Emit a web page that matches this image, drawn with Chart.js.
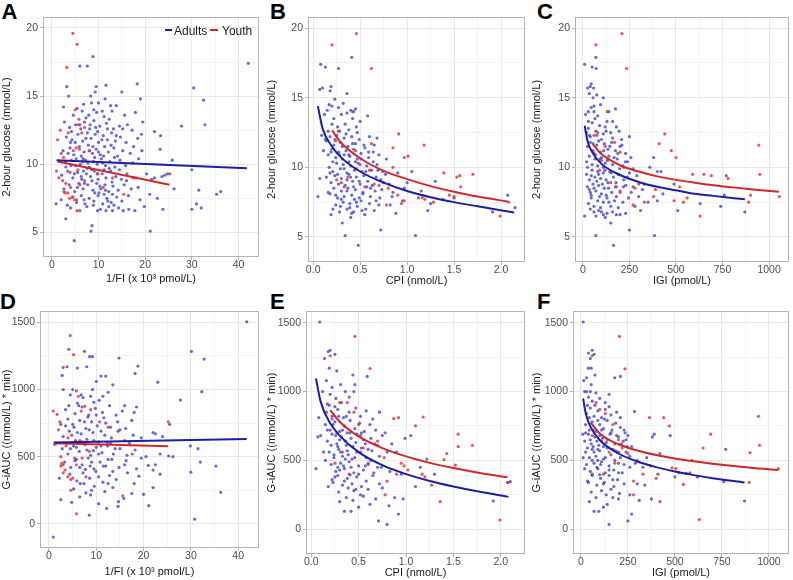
<!DOCTYPE html>
<html>
<head>
<meta charset="utf-8">
<script src="https://cdn.jsdelivr.net/npm/chart.js@4.4.1/dist/chart.umd.min.js"></script>
<style>
body { margin: 0; background: #fff; width: 793px; height: 580px; position: relative; overflow: hidden; font-family: "Liberation Sans", Arial, sans-serif; }
canvas { position: absolute; }
.lbl { position: absolute; font-weight: bold; font-size: 22px; line-height: 22px; color: #000; }
</style>
</head>
<body>
<div class="lbl" style="left:1.5px;top:1.4px">A</div>
<div class="lbl" style="left:270px;top:1.4px">B</div>
<div class="lbl" style="left:537px;top:1.4px">C</div>
<div class="lbl" style="left:0px;top:291.4px">D</div>
<div class="lbl" style="left:270px;top:291.4px">E</div>
<div class="lbl" style="left:537px;top:291.4px">F</div>
<canvas id="pA" width="265" height="290" style="left:0;top:0"></canvas>
<canvas id="pB" width="265" height="290" style="left:265px;top:0"></canvas>
<canvas id="pC" width="263" height="290" style="left:530px;top:0"></canvas>
<canvas id="pD" width="265" height="290" style="left:0;top:290px"></canvas>
<canvas id="pE" width="265" height="290" style="left:265px;top:290px"></canvas>
<canvas id="pF" width="263" height="290" style="left:530px;top:290px"></canvas>
<script>
// ---- tick labels ----
const fiTicks = [0, 10, 20, 30, 40], fiMinor = [5, 15, 25, 35]
const cpiTicks = [0, 0.5, 1, 1.5, 2], cpiMinor = [0.25, 0.75, 1.25, 1.75]
const igiTicks = [0, 250, 500, 750, 1000], igiMinor = [125, 375, 625, 875]
const glucoseTicks = [5, 10, 15, 20], glucoseMinor = [7.5, 12.5, 17.5]
const giaucTicks = [0, 500, 1000, 1500], giaucMinor = [250, 750, 1250]

// ---- A: 1/FI vs 2-hour glucose ----
const adultsA = [[42.1,17.4],[30.4,15.6],[32.5,14.7],[32.8,12.9],[27.8,12.8],[25.8,10.3],[26.2,8.2],[30.0,9.6],[31.5,8.1],[36.2,8.0],[35.3,7.8],[30.0,6.7],[31.0,7.1],[32.0,6.8],[21.1,5.1],[8.6,5.5],[8.4,5.1],[4.8,4.4],[3.0,6.0],[0.9,7.1],[8.8,17.9],[6.0,17.2],[7.6,17.2],[18.3,15.9],[11.6,15.8],[9.5,15.7],[3.2,15.7],[15.0,15.3],[9.3,15.3],[19.0,14.8],[22.0,12.4],[23.3,12.1],[23.2,11.1],[19.5,13.1],[3.6,15.0],[12.6,14.3],[13.8,14.3],[8.5,14.5],[10.0,14.5],[17.9,13.8],[2.5,14.2],[2.7,13.1],[14.5,12.8],[19.2,12.2],[20.3,9.3],[21.4,8.9],[22.0,9.0],[23.6,9.1],[23.8,6.7],[24.2,9.2],[19.8,6.9],[17.8,6.6],[15.3,6.6],[14.3,6.8],[16.5,6.7],[9.8,6.6],[10.4,6.7],[13.0,6.6],[21.0,7.8],[22.6,7.5],[24.8,9.3],
  [4.6,13.6],[6.5,13.9],[7.3,13.4],[9.6,13.8],[11.2,13.5],[12.9,13.9],[15.6,13.6],[5.4,14.1],
  [3.8,12.7],[5.1,12.9],[6.2,12.6],[7.0,13.1],[8.1,12.6],[9.0,13.2],[10.3,12.8],[11.7,13.0],[13.2,12.6],[16.2,12.9],[17.2,12.5],[12.3,13.3],
  [3.1,12.0],[4.3,11.8],[5.6,12.2],[6.6,11.7],[7.6,12.3],[8.4,11.9],[9.3,12.2],[10.0,11.6],[11.0,12.1],[11.9,11.8],[12.8,12.3],[13.6,11.7],[14.7,12.0],[15.9,11.6],[18.4,11.9],[9.8,12.4],
  [2.4,11.0],[3.9,11.2],[4.7,10.7],[5.9,11.3],[6.9,10.9],[7.8,11.4],[8.7,10.8],[9.5,11.1],[10.4,10.7],[11.3,11.3],[12.1,10.9],[13.3,11.2],[14.1,10.6],[15.2,11.0],[16.8,10.8],[19.3,11.0],[6.3,10.6],[8.1,11.0],
  [2.9,10.2],[4.1,9.9],[5.2,10.4],[6.1,10.0],[7.2,10.3],[8.0,9.8],[8.9,10.2],[9.7,10.0],[10.6,10.4],[11.5,9.9],[12.4,10.2],[13.5,9.8],[14.6,10.3],[15.8,9.9],[17.3,10.1],[18.6,10.4],[9.2,10.5],[10.9,10.1],[7.6,9.7],
  [2.1,9.2],[3.4,9.5],[4.5,9.0],[5.5,9.4],[6.4,8.9],[7.4,9.3],[8.3,9.1],[9.1,9.5],[9.9,8.9],[10.8,9.3],[11.6,9.0],[12.6,9.5],[13.7,9.1],[14.9,8.9],[16.1,9.3],[18.0,9.0],[8.6,8.8],[11.2,9.6],[6.8,9.5],
  [2.6,8.2],[3.7,8.5],[4.9,8.0],[5.8,8.6],[6.7,8.2],[7.7,8.5],[8.8,8.1],[9.6,8.6],[10.5,8.2],[11.4,8.5],[12.2,8.0],[13.1,8.4],[14.2,8.1],[15.5,8.5],[17.0,8.2],[18.5,8.3],[10.1,7.9],[12.9,8.7],
  [2.0,7.4],[3.3,7.0],[4.4,7.6],[5.3,7.2],[6.3,7.7],[7.1,7.1],[8.0,7.5],[9.0,7.3],[9.9,7.7],[10.9,7.1],[11.8,7.5],[12.7,7.2],[13.9,7.6],[15.0,7.3],[16.4,7.7],[18.9,7.4],[11.2,7.8],[13.3,7.0],
  [4.0,6.8],[6.0,6.6],[7.5,6.9],[11.6,6.6],[12.2,6.9],
  [3.5,10.8],[4.2,12.4],[4.8,9.3],[5.0,11.6],[5.5,8.3],[6.0,12.9],[6.3,9.1],[6.7,10.4],[7.0,8.6],[7.3,11.9],[7.7,10.1],[8.2,12.9],[8.5,9.6],[8.8,11.3],[9.2,7.9],[9.4,12.7],[9.7,9.3],[10.0,10.9],[10.3,8.4],[10.7,11.8],[11.1,10.6],[11.5,8.1],[11.9,12.6],[12.3,9.7],[12.7,11.4],[13.0,7.8],[13.4,10.5],[13.8,12.1],[6.9,7.4],[8.9,7.0],[5.1,9.9],[4.0,11.6],[3.0,9.8],[7.9,13.6],[10.8,13.9],[12.0,7.3],[14.5,9.6],[15.2,12.6],[16.0,8.8],[17.5,11.3],[9.0,14.0],[6.8,14.4],[11.4,14.8],[8.3,15.0]]
const youthA = [[4.5,19.6],[5.4,18.8],[3.2,17.1],[1.2,11.8],[1.8,12.5],[3.5,12.3],[5.0,14.0],[5.7,12.9],[6.4,12.3],[4.6,11.0],[5.2,11.2],[5.9,11.1],[2.5,10.5],[1.0,9.5],[2.3,8.8],[2.6,8.0],[3.4,7.9],[3.0,8.6],[3.8,7.5],[4.5,7.6],[4.9,7.4],[5.4,6.6],[5.3,7.4],[6.0,8.5],[7.0,8.8],[9.9,9.3],[13.0,9.0],[15.4,7.8],[17.4,9.0],[25.3,9.3],[6.6,10.2],[8.0,11.0],[11.0,8.3],[3.9,9.4],[4.2,10.3],[2.0,10.8],[7.0,12.7],[5.8,13.3],[2.8,7.9],[4.0,8.3],[1.5,9.0],[5.6,9.6]]
const fitAdultsA = [[1.0,10.3],[41.8,9.7]]
const fitYouthA = [[1.2,10.2],[25.2,8.5]]

// ---- B: CPI vs 2-hour glucose ----
const adultsB = [[0.08,17.4],[0.13,17.2],[0.27,17.1],[0.41,17.9],[0.07,15.6],[0.10,15.7],[0.19,15.8],[0.18,15.5],[0.36,15.3],[0.58,13.7],[0.05,7.9],[0.07,9.2],[0.72,5.5],[1.09,5.1],[0.34,5.1],[0.48,4.4],[0.68,12.1],[1.05,9.7],[1.3,9.0],[1.22,6.9],[1.91,6.8],[2.07,8.0],[2.15,7.1],[0.17,14.5],[0.15,14.1],[0.12,13.8],[0.20,14.4],[0.23,14.9],[0.45,14.2],[0.43,14.0],[0.09,12.3],[0.11,11.2],[0.13,12.0],[0.16,8.2],[0.19,6.6],[0.21,7.0],[0.31,6.0],[0.40,6.4],[0.55,6.6],[0.82,7.3],[0.88,6.7],[0.95,7.6],[1.12,7.8],[1.25,7.4],[1.38,7.7],[1.5,7.8],[0.97,8.5],[0.9,9.6],[0.78,10.6],[0.75,8.9],[0.85,8.2],[1.0,8.9],[1.15,8.3],
  [0.22,13.5],[0.26,12.9],[0.30,13.8],[0.34,13.1],[0.38,12.7],[0.42,13.5],[0.46,12.9],[0.50,13.3],[0.28,12.6],[0.40,14.1],
  [0.14,11.9],[0.18,12.2],[0.22,11.6],[0.25,12.3],[0.29,11.8],[0.33,12.1],[0.37,11.5],[0.41,12.2],[0.45,11.7],[0.49,12.0],[0.54,11.6],[0.60,12.2],[0.65,11.6],
  [0.16,10.9],[0.20,11.3],[0.24,10.7],[0.27,11.1],[0.31,10.6],[0.35,11.2],[0.39,10.8],[0.43,11.3],[0.47,10.6],[0.51,11.0],[0.55,11.4],[0.59,10.7],[0.64,11.1],[0.70,10.9],[0.33,10.9],
  [0.17,10.0],[0.21,9.7],[0.25,10.3],[0.29,9.9],[0.32,10.2],[0.36,9.6],[0.40,10.1],[0.44,9.8],[0.48,10.3],[0.52,9.7],[0.57,10.1],[0.62,9.8],[0.68,10.2],[0.74,9.7],[0.38,10.4],[0.46,9.9],
  [0.14,9.3],[0.19,8.9],[0.23,9.4],[0.27,8.8],[0.30,9.2],[0.34,8.7],[0.38,9.5],[0.42,9.0],[0.46,9.3],[0.50,8.8],[0.54,9.4],[0.58,9.0],[0.63,8.7],[0.67,9.3],[0.72,9.1],[0.36,9.1],
  [0.18,8.1],[0.22,8.5],[0.26,7.8],[0.30,8.3],[0.33,7.9],[0.37,8.5],[0.41,8.0],[0.45,8.4],[0.49,7.8],[0.53,8.2],[0.57,8.6],[0.61,7.9],[0.66,8.3],[0.71,7.8],[0.44,7.7],
  [0.24,7.3],[0.28,6.8],[0.32,7.5],[0.36,7.0],[0.39,7.4],[0.43,6.8],[0.47,7.2],[0.51,7.6],[0.56,7.0],[0.60,7.4],[0.65,6.9],[0.70,7.3],[0.41,6.7],
  [0.16,12.6],[0.19,11.1],[0.21,10.4],[0.23,12.0],[0.26,9.5],[0.28,10.9],[0.30,7.7],[0.31,11.5],[0.33,9.9],[0.35,12.4],[0.36,8.3],[0.38,10.9],[0.40,9.3],[0.42,11.7],[0.43,8.6],[0.45,10.4],[0.47,12.5],[0.49,9.0],[0.51,10.6],[0.53,8.1],[0.56,9.7],[0.59,11.1],[0.61,8.5],[0.64,10.4],[0.67,7.6],[0.69,9.8],[0.73,8.4],[0.77,9.5],[0.81,8.8],[0.84,7.9],[0.18,9.6],[0.20,13.1],[0.24,8.0],[0.27,14.3],[0.32,14.6],[0.36,13.9],[0.29,7.2],[0.39,7.1],[0.46,7.5],[0.52,6.9]]
const youthB = [[0.46,19.6],[0.20,18.8],[0.62,17.1],[0.42,14.0],[0.91,12.4],[1.18,11.6],[0.97,10.7],[1.01,10.8],[0.85,11.4],[1.39,9.6],[1.53,9.3],[1.56,9.4],[1.70,9.5],[1.57,8.6],[1.45,8.0],[1.50,7.9],[1.16,7.8],[1.19,7.7],[0.97,7.6],[0.94,7.4],[1.99,6.5],[2.08,7.5],[0.78,7.3],[0.62,11.7],[0.50,10.2],[0.30,8.9],[0.33,8.6],[0.37,9.3],[0.55,8.6],[0.60,9.8],[0.70,8.7],[0.80,8.5],[0.90,8.0],[0.45,11.2],[0.25,9.1],[0.65,8.8],[0.85,10.0],[1.28,7.5],[0.27,12.6],[0.24,11.9]]
const fitAdultsB = [[0.05,14.4],[0.1,12.8],[0.2,11.5],[0.3,10.7],[0.5,9.7],[0.75,8.9],[1.0,8.3],[1.25,7.85],[1.5,7.5],[1.75,7.2],[2.14,6.75]]
const fitYouthB = [[0.2,12.65],[0.3,11.75],[0.5,10.65],[0.75,9.75],[1.0,9.15],[1.25,8.65],[1.5,8.25],[1.75,7.9],[2.07,7.55]]

// ---- C: IGI vs 2-hour glucose ----
const adultsC = [[10,17.4],[50,17.2],[70,17.9],[72,17.1],[25,15.7],[40,15.8],[58,15.7],[110,15.0],[10,6.5],[70,5.1],[165,4.4],[150,6.0],[250,5.5],[385,5.1],[250,12.2],[380,10.7],[360,10.0],[400,9.7],[420,9.7],[490,8.8],[510,6.9],[630,7.4],[740,7.2],[760,8.0],[770,9.4],[870,6.8],[300,7.9],[310,6.9],[320,8.4],[350,7.5],[175,14.2],[160,13.3],[195,12.6],[210,11.6],[230,11.0],[240,10.4],[270,9.9],[290,9.4],[280,7.2],[330,8.8],[400,7.6],[430,8.1],[20,12.5],[15,13.8],[30,14.0],[45,14.3],[60,14.4],[35,15.3],[55,15.0],[80,13.7],[120,12.9],[140,14.0],[100,6.8],[130,6.7],[200,6.6],[60,6.8],[45,8.0],
  [30,12.8],[50,13.2],[70,12.6],[90,13.0],[110,12.4],[130,13.3],[150,12.5],[180,12.9],[65,13.5],[40,12.2],
  [25,11.5],[40,11.8],[55,11.2],[75,11.6],[95,11.1],[115,11.7],[135,11.3],[155,11.8],[175,11.2],[200,11.5],[85,11.9],
  [20,10.4],[35,10.8],[50,10.2],[65,10.6],[80,10.1],[100,10.7],[120,10.3],[140,10.8],[160,10.2],[185,10.6],[215,10.1],[110,10.0],
  [20,9.5],[35,9.1],[50,9.8],[65,9.3],[80,9.7],[95,9.2],[110,9.6],[125,9.1],[145,9.7],[165,9.3],[190,9.5],[220,9.1],[250,9.6],[75,9.0],
  [25,8.6],[40,8.2],[55,8.8],[70,8.3],[85,8.7],[100,8.1],[115,8.5],[135,8.9],[155,8.2],[175,8.6],[200,8.3],[230,8.7],[260,8.2],[125,8.0],
  [30,7.4],[45,7.8],[60,7.2],[80,7.6],[95,7.1],[110,7.5],[130,7.8],[150,7.2],[170,7.6],[190,7.1],[215,7.5],[245,7.8],[90,7.9],
  [70,6.5],[120,6.4],[160,6.8],[180,6.6],[230,6.7],
  [25,10.0],[35,12.3],[45,9.4],[55,11.7],[60,8.5],[68,10.9],[75,12.3],[85,9.5],[92,10.6],[100,12.0],[105,8.8],[112,11.2],[118,9.8],[125,12.6],[132,10.5],[138,8.5],[145,11.5],[152,9.6],[160,12.1],[168,10.7],[178,8.9],[188,11.0],[198,9.9],[208,12.0],[218,8.6],[228,10.4],[238,9.3],[258,10.7],[270,8.6],[40,7.0],[85,6.9],[110,6.6],[140,7.5],[30,13.3],[60,14.0],[95,14.5],[75,15.2],[45,16.0],[35,8.4],[180,7.9]]
const youthC = [[210,19.6],[70,18.8],[235,17.1],[130,14.0],[440,12.4],[410,11.7],[475,11.2],[500,10.7],[945,11.6],[950,9.5],[590,9.5],[650,9.5],[690,9.4],[780,9.2],[520,8.6],[560,7.8],[490,7.6],[540,7.5],[630,6.5],[900,8.0],[890,7.5],[1055,7.9],[380,7.9],[390,8.4],[300,8.8],[280,8.5],[150,8.9],[180,8.6],[200,8.2],[100,10.5],[60,12.3],[80,12.5],[120,11.5],[170,11.8],[200,11.1],[90,9.8],[220,10.0],[330,7.5],[270,7.3],[60,11.0]]
const fitAdultsC = [[10,13.0],[25,11.9],[50,11.1],[100,10.25],[200,9.45],[300,8.95],[400,8.6],[500,8.35],[600,8.1],[700,7.95],[870,7.7]]
const fitYouthC = [[55,11.65],[100,10.95],[200,10.15],[300,9.7],[400,9.35],[500,9.1],[600,8.9],[700,8.72],[800,8.57],[900,8.43],[1053,8.25]]

// ---- D: 1/FI vs G-iAUC ----
const adultsD = [[0.9,-98],[41.8,1505],[30.1,1284],[32.8,1227],[32.3,984],[27.8,922],[29.9,580],[30.0,385],[31.5,560],[32.0,460],[35.3,430],[36.3,235],[30.8,35],[23.0,1055],[21.1,135],[12.2,115],[8.5,65],[2.5,180],[4.2,1300],[7.5,1285],[8.6,1245],[9.2,1245],[14.8,1235],[18.8,1175],[18.2,1120],[3.8,1170],[2.8,1105],[6.0,1160],[8.0,1170],[11.0,1100],[12.0,1100],[13.5,1035],[10.0,1060],[3.0,1000],[5.0,1000],[22.0,680],[22.5,670],[25.5,740],[26.2,500],[25.3,505],[23.5,520],[24.0,650],[22.5,440],[22.0,270],[21.0,435],[22.0,400],[19.5,490],[19.0,355],[17.5,225],[15.8,190],[14.7,165],[14.6,130],[10.5,150],[4.8,160],[6.5,200],[18.0,830],[18.5,870],[16.0,880],[19.5,640],[20.5,500],[23.5,370],[20.0,220],
  [4.5,960],[7.2,940],[8.8,950],[10.6,920],[12.5,980],[9.5,905],[6.0,900],
  [3.5,850],[5.5,820],[7.0,870],[8.4,810],[9.8,860],[11.3,830],[12.8,880],[14.2,810],[15.5,840],[6.3,880],
  [2.5,740],[4.0,780],[5.3,720],[6.5,770],[7.8,710],[9.0,760],[10.2,730],[11.6,790],[13.0,720],[14.5,760],[16.2,710],[17.5,770],[8.2,795],
  [3.0,650],[4.3,690],[5.6,620],[6.8,670],[8.0,630],[9.3,680],[10.5,610],[11.8,660],[13.2,640],[14.6,690],[16.0,620],[17.8,660],[7.4,600],[12.3,605],
  [2.8,560],[4.0,520],[5.2,580],[6.4,540],[7.6,590],[8.8,510],[10.0,570],[11.2,530],[12.4,580],[13.6,520],[15.0,560],[16.5,510],[18.2,550],[9.4,545],
  [3.3,460],[4.6,420],[5.8,480],[7.0,440],[8.3,490],[9.5,410],[10.8,460],[12.0,430],[13.3,480],[14.8,420],[16.3,470],[18.5,410],[7.7,405],
  [2.2,340],[4.4,370],[5.9,320],[7.2,380],[8.6,340],[9.9,390],[11.4,310],[12.8,360],[14.2,330],[16.6,380],[18.0,300],[6.6,300],
  [5.2,260],[7.8,230],[9.6,280],[11.8,240],[13.5,270],[8.8,215],
  [3.8,600],[4.5,560],[5.0,740],[5.5,470],[6.0,680],[6.5,420],[7.0,610],[7.5,760],[8.0,550],[8.5,700],[9.0,460],[9.5,620],[10.0,810],[10.5,520],[11.0,690],[11.5,430],[12.0,750],[12.5,480],[13.0,600],[13.5,390],[14.0,560],[15.0,700],[16.0,440],[17.0,600],[4.2,880],[6.8,960],[9.2,1000],[11.4,950],[7.4,300],[9.0,250],[10.5,350],[12.5,300],[3.5,730],[5.8,570],[8.7,430],[11.0,580]]
const youthD = [[4.5,1402],[5.2,1260],[3.0,1165],[0.9,840],[1.7,815],[2.3,760],[5.8,990],[6.2,950],[7.6,875],[8.8,850],[6.8,840],[4.0,640],[4.8,660],[5.5,610],[2.5,500],[3.0,440],[2.5,430],[3.4,400],[3.0,380],[4.0,350],[4.6,330],[5.0,340],[5.4,490],[5.8,440],[4.6,250],[5.8,75],[15.6,209],[17.6,520],[25.2,760],[12.5,720],[10.7,760],[7.0,490],[8.5,540],[1.5,600],[6.5,620],[2.0,700],[3.6,580],[1.2,590],[7.8,350],[2.7,450]]
const fitAdultsD = [[1.0,606],[41.8,632]]
const fitYouthD = [[1.2,601],[25.2,578]]

// ---- E: CPI vs G-iAUC ----
const adultsE = [[0.09,1505],[0.05,440],[0.18,1290],[0.20,1300],[0.25,1270],[0.14,1240],[0.19,1170],[0.44,1120],[0.46,1050],[0.59,1110],[0.72,850],[0.71,60],[0.80,35],[0.82,170],[0.92,110],[0.97,220],[1.05,680],[1.22,510],[1.10,310],[1.92,205],[2.08,340],[2.10,345],[1.30,400],[0.16,1080],[0.12,1000],[0.08,810],[0.10,680],[0.07,670],[0.13,560],[0.15,500],[0.18,310],[0.22,360],[0.30,200],[0.35,130],[0.42,130],[0.50,160],[0.55,240],[0.62,180],[0.68,220],[0.75,300],[0.88,230],[0.95,400],[0.85,620],[0.78,700],[0.90,560],[1.15,450],[0.99,660],[0.65,800],
  [0.20,980],[0.26,950],[0.32,920],[0.40,960],[0.45,1000],[0.17,910],[0.36,1000],
  [0.16,850],[0.22,820],[0.28,870],[0.34,810],[0.40,850],[0.47,880],[0.52,820],[0.58,860],[0.25,890],
  [0.15,760],[0.20,720],[0.25,780],[0.30,710],[0.35,750],[0.41,790],[0.46,730],[0.51,770],[0.56,710],[0.62,760],[0.68,720],[0.38,700],
  [0.17,640],[0.22,690],[0.27,620],[0.32,670],[0.37,610],[0.42,660],[0.47,630],[0.52,680],[0.57,620],[0.63,660],[0.70,610],[0.75,680],[0.30,650],
  [0.19,560],[0.24,520],[0.29,580],[0.33,530],[0.38,570],[0.43,510],[0.48,560],[0.53,590],[0.58,520],[0.64,570],[0.72,530],[0.80,560],[0.36,510],
  [0.21,470],[0.26,420],[0.31,480],[0.35,440],[0.40,490],[0.45,410],[0.50,460],[0.55,430],[0.60,480],[0.66,410],[0.74,450],[0.83,420],[0.28,450],
  [0.23,340],[0.28,390],[0.33,320],[0.38,370],[0.43,330],[0.48,380],[0.53,310],[0.58,350],[0.65,390],[0.72,330],[0.41,395],
  [0.29,270],[0.37,230],[0.45,280],[0.52,250],[0.60,290],[0.44,210],
  [0.17,720],[0.19,900],[0.21,610],[0.23,760],[0.24,540],[0.26,680],[0.28,600],[0.29,820],[0.31,560],[0.33,720],[0.34,460],[0.36,640],[0.37,820],[0.39,540],[0.41,700],[0.42,450],[0.44,600],[0.46,520],[0.48,690],[0.50,400],[0.52,560],[0.55,650],[0.57,460],[0.60,580],[0.63,500],[0.67,620],[0.70,450],[0.22,1030],[0.27,1150],[0.31,1050],[0.35,350],[0.39,300],[0.47,290],[0.25,380],[0.30,430],[0.53,700]]
const youthE = [[0.46,1401],[0.20,1260],[0.62,1167],[0.30,920],[0.87,804],[0.92,810],[1.18,815],[1.10,750],[1.55,690],[1.70,610],[1.55,600],[1.43,550],[1.40,505],[1.52,465],[1.27,320],[1.36,200],[1.99,67],[2.07,340],[0.78,250],[0.80,350],[0.77,520],[0.90,400],[0.98,460],[1.02,430],[1.17,400],[1.20,380],[0.55,590],[0.60,470],[0.40,400],[0.33,560],[0.25,480],[0.50,760],[0.45,850],[0.38,920],[0.70,640],[0.95,480],[0.22,800],[0.27,700]]
const fitAdultsE = [[0.05,1095],[0.1,925],[0.2,770],[0.3,680],[0.5,560],[0.75,465],[1.0,400],[1.25,350],[1.5,310],[1.75,275],[2.08,235]]
const fitYouthE = [[0.2,865],[0.3,780],[0.5,674],[0.75,589],[1.0,529],[1.25,482],[1.5,444],[1.75,412],[2.07,377]]

// ---- F: IGI vs G-iAUC ----
const adultsF = [[12,1505],[60,1300],[40,1280],[70,1270],[50,1240],[210,1110],[180,1100],[285,855],[250,60],[150,35],[270,110],[310,210],[375,220],[390,690],[380,670],[475,680],[420,550],[500,380],[520,410],[560,405],[620,380],[760,345],[770,580],[870,205],[15,1080],[30,1100],[20,1000],[40,1170],[55,1170],[10,690],[12,520],[20,440],[35,350],[45,200],[70,130],[95,130],[120,160],[140,180],[170,230],[200,220],[230,330],[260,250],[300,330],[340,320],[330,450],[290,480],[270,600],[230,720],[240,650],[350,520],[410,400],
  [40,960],[60,930],[80,990],[100,950],[130,920],[150,980],[50,1000],
  [30,840],[50,880],[70,820],[90,860],[110,810],[130,870],[160,830],[190,850],[210,810],
  [25,760],[45,720],[60,780],[80,710],[100,760],[120,730],[140,790],[165,720],[185,770],[210,740],[235,700],[90,790],
  [20,640],[40,690],[55,620],[75,670],[95,610],[115,660],[135,630],[155,690],[180,620],[200,670],[225,640],[250,680],[65,600],
  [25,560],[45,520],[60,580],[80,530],[100,570],[120,510],[140,590],[160,540],[185,570],[210,520],[240,560],[90,500],
  [30,470],[50,420],[70,480],[90,440],[110,490],[130,410],[150,460],[175,430],[200,480],[220,410],[260,450],[60,400],
  [40,340],[60,390],[85,320],[105,370],[125,340],[150,390],[175,310],[195,360],[100,395],
  [55,270],[80,230],[110,280],[135,250],[160,290],[205,260],
  [25,700],[35,590],[45,810],[50,650],[60,500],[65,720],[70,560],[75,900],[85,640],[90,580],[100,680],[105,470],[110,720],[120,600],[125,800],[130,520],[140,650],[150,430],[160,700],[170,580],[180,500],[190,680],[200,560],[215,620],[230,470],[245,600],[260,530],[30,1000],[55,1050],[75,1120],[35,900],[150,890],[170,360],[120,330],[200,410],[85,450]]
const youthF = [[205,1400],[60,1260],[235,1165],[80,920],[365,810],[440,810],[470,750],[690,690],[650,590],[580,410],[545,325],[590,500],[505,440],[485,445],[895,340],[900,555],[945,820],[950,610],[1050,440],[630,70],[420,200],[280,250],[370,460],[330,400],[300,500],[280,350],[120,400],[150,560],[200,650],[100,870],[130,840],[170,760],[250,550],[60,680],[400,370],[180,480],[220,590],[110,640]]
const fitAdultsF = [[12,950],[25,845],[50,747],[100,648],[200,550],[300,492],[400,451],[500,419],[600,393],[700,371],[870,340]]
const fitYouthF = [[52,775],[100,696],[200,617],[300,572],[400,539],[500,514],[600,493],[700,476],[800,461],[900,447],[1050,430]]

const FONT = '"Liberation Sans", Arial, sans-serif'
const BLUE_PT = 'rgba(68,68,205,0.8)', RED_PT = 'rgba(225,60,60,0.85)'
const BLUE_LN = '#1e1ea4', RED_LN = '#d42626'

const toXY = a => a.map(p => ({x: p[0], y: p[1]}))
const fmt0 = v => String(v)
const fmt1 = v => v.toFixed(1)

function axis(opts, major, minor, fmt, title, titlePad, isY) {
    const all = major.concat(minor).sort((a, b) => a - b)
    return {
        type: 'linear',
        min: opts[0], max: opts[1],
        bounds: 'data',
        afterBuildTicks: s => { s.ticks = all.map(v => ({value: v})) },
        afterFit: s => { if (isY) s.width = opts[2]; else s.height = opts[2] },
        border: {display: false},
        grid: {
            color: c => major.includes(c.tick.value) ? '#e8e8e8' : '#f3f3f3',
            tickColor: c => major.includes(c.tick.value) ? '#b3b3b3' : 'rgba(0,0,0,0)',
            tickLength: 3,
            lineWidth: 1
        },
        ticks: {
            autoSkip: false, maxRotation: 0, padding: isY ? 2 : -1,
            color: '#4d4d4d', font: {family: FONT, size: 10.5},
            callback: v => major.includes(v) ? fmt(v) : ''
        },
        title: {
            display: true, text: title, color: '#1a1a1a',
            font: {family: FONT, size: 11},
            padding: isY ? {top: 0.5, bottom: 0} : {top: 0, bottom: titlePad}
        }
    }
}

const frame = {
    id: 'frame',
    afterDraw(chart, args, o) {
        const {ctx, chartArea: a} = chart
        ctx.save()
        ctx.strokeStyle = '#b3b3b3'
        ctx.lineWidth = 1
        ctx.strokeRect(a.left + 0.5, a.top + 0.5, a.right - a.left - 1, a.bottom - a.top - 1)
        if (o.legend) {
            ctx.lineWidth = 2
            ctx.strokeStyle = BLUE_LN
            ctx.beginPath(); ctx.moveTo(165, 30); ctx.lineTo(172, 30); ctx.stroke()
            ctx.strokeStyle = RED_LN
            ctx.beginPath(); ctx.moveTo(210, 30); ctx.lineTo(218, 30); ctx.stroke()
            ctx.fillStyle = '#1a1a1a'
            ctx.font = '12px ' + FONT
            ctx.textBaseline = 'alphabetic'
            ctx.fillText('Adults', 174, 34.5)
            ctx.fillText('Youth', 222, 34.5)
        }
        ctx.restore()
    }
}

function panel(id, p) {
    const cv = document.getElementById(id)
    new Chart(cv.getContext('2d'), {
        type: 'scatter',
        data: {
            datasets: [
                {data: toXY(p.fitA), showLine: true, borderColor: BLUE_LN, borderWidth: 2, pointRadius: 0, tension: 0.4, cubicInterpolationMode: 'monotone', order: 0},
                {data: toXY(p.fitY), showLine: true, borderColor: RED_LN, borderWidth: 2, pointRadius: 0, tension: 0.4, cubicInterpolationMode: 'monotone', order: 0},
                {data: toXY(p.youth), backgroundColor: RED_PT, borderWidth: 0, pointRadius: 1.6, order: 1},
                {data: toXY(p.adults), backgroundColor: BLUE_PT, borderWidth: 0, pointRadius: 1.6, order: 2}
            ]
        },
        options: {
            responsive: false,
            devicePixelRatio: 1,
            animation: false,
            events: [],
            layout: {padding: {top: p.top, right: cv.width - p.right, left: 0, bottom: 0}},
            scales: {
                x: axis([p.x[0], p.x[1], cv.height - p.bottom], p.xMajor, p.xMinor, p.xFmt, p.xTitle, p.xPad, false),
                y: axis([p.y[0], p.y[1], p.left], p.yMajor, p.yMinor, fmt0, p.yTitle, 0, true)
            },
            plugins: {legend: {display: false}, tooltip: {enabled: false}, frame: {legend: !!p.legend}}
        },
        plugins: [frame]
    })
}

const fiTitle = '1/FI (x 10\u00b3 pmol/L)'
const cpiTitle = 'CPI (nmol/L)'
const igiTitle = 'IGI (pmol/L)'
const gluTitle = '2-hour glucose (mmol/L)'
const aucTitle = 'G-iAUC ((mmol/L) * min)'

panel('pA', {left: 43, right: 259, top: 17, bottom: 257, x: [-1.9, 44.4], y: [3.2, 20.8],
    xMajor: fiTicks, xMinor: fiMinor, xFmt: fmt0, xTitle: fiTitle, xPad: 4,
    yMajor: glucoseTicks, yMinor: glucoseMinor, yTitle: gluTitle,
    adults: adultsA, youth: youthA, fitA: fitAdultsA, fitY: fitYouthA, legend: true})
panel('pB', {left: 43, right: 260, top: 17, bottom: 262, x: [-0.055, 2.255], y: [3.2, 20.8],
    xMajor: cpiTicks, xMinor: cpiMinor, xFmt: fmt1, xTitle: cpiTitle, xPad: 2,
    yMajor: glucoseTicks, yMinor: glucoseMinor, yTitle: gluTitle,
    adults: adultsB, youth: youthB, fitA: fitAdultsB, fitY: fitYouthB})
panel('pC', {left: 45, right: 260, top: 17, bottom: 262, x: [-42, 1107], y: [3.2, 20.8],
    xMajor: igiTicks, xMinor: igiMinor, xFmt: fmt0, xTitle: igiTitle, xPad: 2,
    yMajor: glucoseTicks, yMinor: glucoseMinor, yTitle: gluTitle,
    adults: adultsC, youth: youthC, fitA: fitAdultsC, fitY: fitYouthC})
panel('pD', {left: 40, right: 259, top: 21, bottom: 258, x: [-1.9, 44.4], y: [-180, 1585],
    xMajor: fiTicks, xMinor: fiMinor, xFmt: fmt0, xTitle: fiTitle, xPad: 1,
    yMajor: giaucTicks, yMinor: giaucMinor, yTitle: aucTitle,
    adults: adultsD, youth: youthD, fitA: fitAdultsD, fitY: fitYouthD})
panel('pE', {left: 41, right: 260, top: 21, bottom: 264, x: [-0.055, 2.255], y: [-180, 1585],
    xMajor: cpiTicks, xMinor: cpiMinor, xFmt: fmt1, xTitle: cpiTitle, xPad: 0,
    yMajor: giaucTicks, yMinor: giaucMinor, yTitle: aucTitle,
    adults: adultsE, youth: youthE, fitA: fitAdultsE, fitY: fitYouthE})
panel('pF', {left: 43, right: 260, top: 21, bottom: 264, x: [-42, 1107], y: [-180, 1585],
    xMajor: igiTicks, xMinor: igiMinor, xFmt: fmt0, xTitle: igiTitle, xPad: 0,
    yMajor: giaucTicks, yMinor: giaucMinor, yTitle: aucTitle,
    adults: adultsF, youth: youthF, fitA: fitAdultsF, fitY: fitYouthF})
</script>
</body>
</html>
